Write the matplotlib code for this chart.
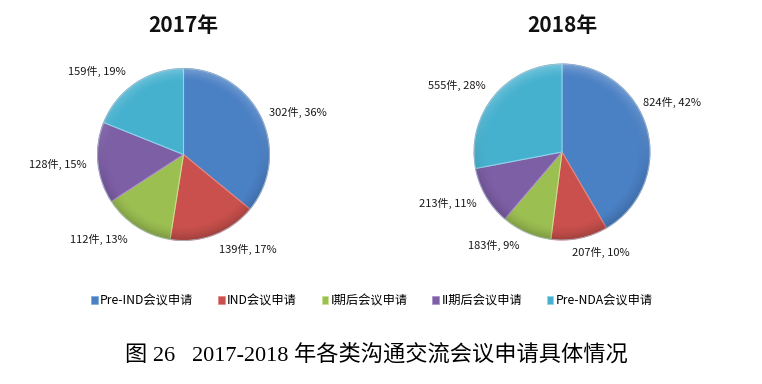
import numpy as np
import matplotlib.pyplot as plt
from matplotlib.patches import Patch, Circle

plt.rcParams['font.family'] = ['Noto Sans CJK SC', 'DejaVu Sans']

# data
categories = ['Pre-IND会议申请', 'IND会议申请', 'I期后会议申请', 'II期后会议申请', 'Pre-NDA会议申请']
years = ['2017年', '2018年']
counts_2017 = [302, 139, 112, 128, 159]
counts_2018 = [824, 207, 183, 213, 555]
pct_2017 = [36, 17, 13, 15, 19]
pct_2018 = [42, 10, 9, 11, 28]

colors = ['#4a80c4', '#c9504c', '#9cbf52', '#7d5fa6', '#46b1cf']
edge = ['#80a8dc', '#e8857f', '#c8e08a', '#a98dcc', '#8ad6ea']

# label offsets relative to pie centre (units of radius)
lab_2017 = [(1.33, 0.49), (0.75, -1.10), (-0.98, -0.99), (-1.46, -0.12), (-1.01, 0.97)]
lab_2018 = [(1.25, 0.56), (0.44, -1.14), (-0.77, -1.06), (-1.30, -0.59), (-1.20, 0.76)]

W, H = 762, 384
fig = plt.figure(figsize=(W / 100, H / 100), dpi=100)


def shade_layers():
    n = 300
    g = np.linspace(-1, 1, n)
    x, y = np.meshgrid(g, g[::-1])
    r = np.sqrt(x ** 2 + y ** 2)
    rim = np.clip((r - 0.84) / 0.16, 0, 1) ** 1.5
    dark = np.zeros((n, n, 4))
    dark[..., 3] = rim * 0.2 * np.clip(0.6 - y, 0, 1.6) / 1.6
    light = np.ones((n, n, 4))
    light[..., 3] = rim * 0.25 * np.clip(y + 0.3, 0, 1.3) / 1.3
    return dark, light


def draw_pie(cx, cy, r, box, counts, pcts, labs, title):
    x0, y0, x1, y1 = box  # pixel box, image coords (y down)
    ax = fig.add_axes([x0 / W, 1 - y1 / H, (x1 - x0) / W, (y1 - y0) / H])
    ax.pie(counts, startangle=90, counterclock=False, colors=colors,
           radius=1, wedgeprops=dict(linewidth=0.8))
    for w, ec in zip(ax.patches, edge):
        w.set_edgecolor(ec)
    for layer in shade_layers():
        ax.imshow(layer, extent=[-1, 1, -1, 1], zorder=3, interpolation='bilinear',
                  clip_path=Circle((0, 0), 1, transform=ax.transData))
    ax.add_patch(Circle((0, 0), 1, fill=False, ec='#9ab0c4', lw=0.5, zorder=4))
    ax.set_aspect('auto')
    ax.set_xlim((x0 - cx) / r, (x1 - cx) / r)
    ax.set_ylim(-(y1 - cy) / r, (cy - y0) / r)
    ax.axis('off')
    for c, p, (lx, ly) in zip(counts, pcts, labs):
        ax.text(lx, ly, f'{c}件, {p}%', ha='center', va='center', fontsize=8, color='#1a1a1a')
    fig.text(cx / W, 1 - 25 / H, title, ha='center', va='center',
             fontsize=15, fontweight='bold', color='#111111')


draw_pie(183.5, 154.5, 86, (0, 45, 381, 275), counts_2017, pct_2017, lab_2017, years[0])
draw_pie(562, 152, 88, (381, 45, 762, 275), counts_2018, pct_2018, lab_2018, years[1])

handles = [Patch(facecolor=c, edgecolor=e, lw=0.5) for c, e in zip(colors, edge)]
fig.legend(handles, categories, loc='center', bbox_to_anchor=(372 / W, 1 - 301 / H),
           ncol=5, frameon=False, fontsize=8.8, handlelength=0.55, handleheight=0.55,
           handletextpad=0.2, columnspacing=2.0)

fig.text(376 / W, 1 - 355 / H, '图 26   2017-2018 年各类沟通交流会议申请具体情况',
         ha='center', va='center', fontsize=16,
         family=['Liberation Serif', 'Noto Sans CJK SC'])

fig.savefig('out.png', dpi=100)
